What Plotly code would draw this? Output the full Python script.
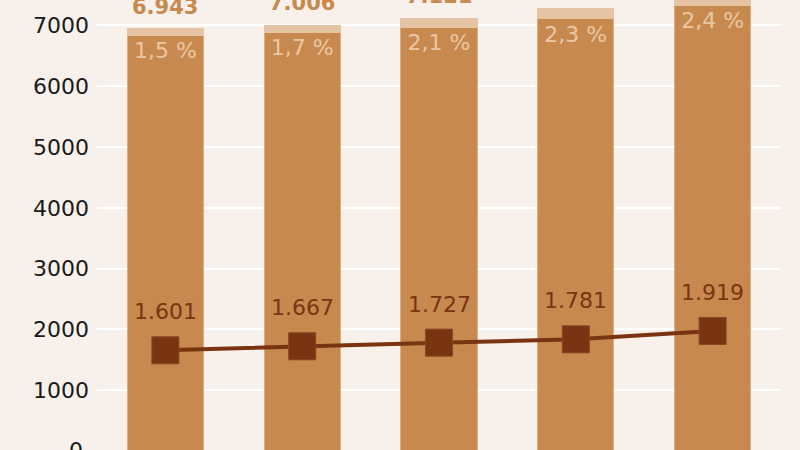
import plotly.graph_objects as go

# Werte
jahre = ["2015", "2016", "2017", "2018", "2019"]
gesamt = [6943, 7006, 7121, 7281, 7508]
gesamt_text = ["6.943", "7.006", "7.121", "7.281", "7.508"]
anteil = [1.5, 1.7, 2.1, 2.3, 2.4]
anteil_text = ["1,5 %", "1,7 %", "2,1 %", "2,3 %", "2,4 %"]
linie = [1601, 1667, 1727, 1781, 1919]
linie_text = ["1.601", "1.667", "1.727", "1.781", "1.919"]

# Balken in unteren (dunklen) und oberen (hellen) Teil zerlegen
oben = [g * a / 100 for g, a in zip(gesamt, anteil)]
unten = [g - o for g, o in zip(gesamt, oben)]

y_min, y_max = 16, 7418

fig = go.Figure()

fig.add_trace(go.Bar(x=jahre, y=unten, marker_color='#c8894e',
                     marker_line=dict(color='#dcae84', width=1),
                     text=anteil_text, textposition='inside', insidetextanchor='end',
                     textangle=0, constraintext='none',
                     textfont=dict(size=22, color='#e9c8a6', family='DejaVu Sans'),
                     hoverinfo='skip'))
fig.add_trace(go.Bar(x=jahre, y=oben, marker_color='#e5c4a3',
                     marker_line=dict(color='#e5c4a3', width=1), hoverinfo='skip'))

fig.add_trace(go.Scatter(x=jahre, y=linie, mode='lines+markers', yaxis='y2',
                         line=dict(color='#7a3411', width=4),
                         marker=dict(symbol='square', size=27, color='#7a3411',
                                     line=dict(color='#8a4521', width=1)),
                         hoverinfo='skip'))

# Beschriftungen
for i, (g, t) in enumerate(zip(gesamt, gesamt_text)):
    fig.add_annotation(x=i, y=g, xref='x', yref='y', text=f"<b>{t}</b>", showarrow=False,
                       yanchor='bottom', yshift=8,
                       font=dict(size=21, color='#c8894e', family='DejaVu Sans'))

for i, (v, t) in enumerate(zip(linie, linie_text)):
    fig.add_annotation(x=i, y=v, xref='x', yref='y2', text=t, showarrow=False,
                       yanchor='bottom', yshift=24,
                       font=dict(size=22, color='#7a3411', family='DejaVu Sans'))

# abgeschnittene Null am unteren Rand (liegt knapp unter dem Bildrand)
fig.add_annotation(x=-0.0175, xref='paper', y=(0 - y_min) / (y_max - y_min), yref='paper',
                   text="0", showarrow=False, xanchor='right', yanchor='middle',
                   font=dict(size=22, color='#1a1a1a', family='DejaVu Sans'))

fig.update_layout(
    width=800, height=450,
    barmode='stack', bargap=0.444,
    showlegend=False,
    paper_bgcolor='#f8f0ea', plot_bgcolor='#f8f0ea',
    margin=dict(l=97, r=19, t=0, b=0),
    font=dict(family='DejaVu Sans', size=22, color='#1a1a1a'),
    xaxis=dict(type='category', showticklabels=False, showgrid=False, zeroline=False,
               range=[-0.5, 4.5]),
    yaxis=dict(range=[y_min, y_max], tickvals=[1000, 2000, 3000, 4000, 5000, 6000, 7000],
               showgrid=True, gridcolor='#ffffff', gridwidth=2, zeroline=False,
               ticklabelstandoff=7, tickfont=dict(size=22, color='#1a1a1a')),
    yaxis2=dict(range=[-39, 7363], overlaying='y', visible=False),
)

fig.write_html("out.html", config={'displayModeBar': False},
               post_script="document.body.style.margin='0';")
